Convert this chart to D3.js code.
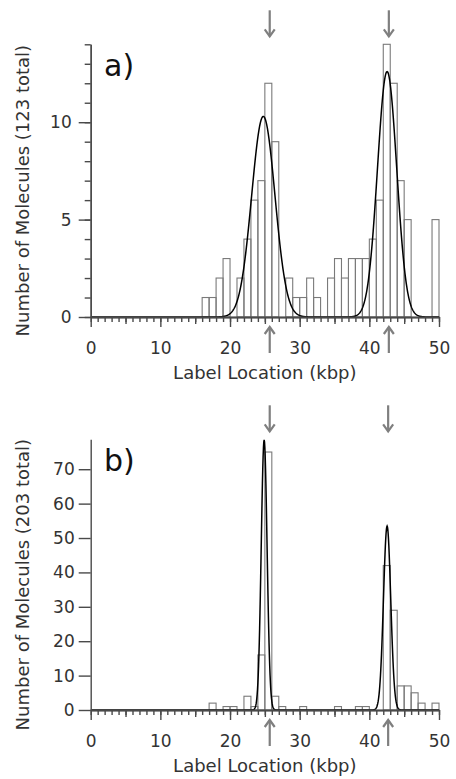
<!DOCTYPE html>
<html>
<head>
<meta charset="utf-8">
<script src="https://cdn.jsdelivr.net/npm/d3@7"></script>
<style>
  body { margin: 0; background: #fff; }
  svg { display: block; }
  text { font-family: "DejaVu Sans", Verdana, sans-serif; fill: #333; }
</style>
</head>
<body>
<svg id="chart" width="456" height="779"></svg>
<script>
// histogram counts, one entry per 1 kbp bin (bin k covers k..k+1 kbp)
const countsA = [0, 0, 0, 0, 0, 0, 0, 0, 0, 0,  0, 0, 0, 0, 0, 0, 1, 1, 2, 3,
                 0, 2, 4, 6, 7, 12, 9, 0, 2, 1,  1, 2, 1, 0, 2, 3, 2, 3, 3, 3,
                 4, 6, 14, 12, 7, 5, 0, 0, 0, 5];
const countsB = [0, 0, 0, 0, 0, 0, 0, 0, 0, 0,  0, 0, 0, 0, 0, 0, 0, 2, 0, 1,
                 1, 0, 4, 1, 16, 75, 4, 1, 0, 0,  1, 0, 0, 0, 0, 1, 0, 0, 1, 1,
                 0, 0, 42, 29, 7, 7, 5, 2, 0, 2];

// gaussian fits (center kbp, sigma kbp, peak height)
const fitsA = [{center: 24.78, sigma: 1.67, peak: 10.3}, {center: 42.55, sigma: 1.38, peak: 12.6}];
const fitsB = [{center: 24.9, sigma: 0.42, peak: 78.5}, {center: 42.55, sigma: 0.52, peak: 53.5}];

// expected label positions marked by the arrows
const arrowsA = [25.7, 42.8];
const arrowsB = [25.7, 42.7];

const xTickLabels = [0, 10, 20, 30, 40, 50];
const xMinorTicks = d3.range(0, 51, 1);
const xMidTicks = [5, 15, 25, 35, 45];
const yTicksA = [0, 5, 10];
const yMinorA = d3.range(0, 15, 1);
const yTicksB = [0, 10, 20, 30, 40, 50, 60, 70];

const panels = [
  {label: 'a)', title: 'Number of Molecules (123 total)', counts: countsA, fits: fitsA, arrows: arrowsA,
   yMax: 14, yTicks: yTicksA, yMinor: yMinorA, top: 44.3, bottom: 317, yPad: 7},
  {label: 'b)', title: 'Number of Molecules (203 total)', counts: countsB, fits: fitsB, arrows: arrowsB,
   yMax: 78.7, yTicks: yTicksB, yMinor: [], top: 439.3, bottom: 710, yPad: 4}
];

const left = 90.7, right = 439;
const svg = d3.select('#chart');
const sx = d3.scaleLinear().domain([0, 50]).range([left, right]);

panels.forEach(function(p) {
  const sy = d3.scaleLinear().domain([0, p.yMax]).range([p.bottom, p.top]);
  const g = svg.append('g');

  // bars
  g.append('g').selectAll('rect')
    .data(p.counts.map((c, i) => ({start: i, count: c})).filter(d => d.count > 0))
    .join('rect')
    .attr('x', d => sx(d.start))
    .attr('width', d => sx(d.start + 1) - sx(d.start))
    .attr('y', d => sy(d.count))
    .attr('height', d => sy(0) - sy(d.count))
    .style('fill', 'none')
    .style('stroke', '#7a7a7a')
    .style('stroke-width', 1.1);

  // fit curve
  const xs = d3.range(0, 50.0001, 0.05);
  const fitValue = function(x) {
    return d3.sum(p.fits, f => f.peak * Math.exp(-Math.pow(x - f.center, 2) / (2 * f.sigma * f.sigma)));
  };
  const line = d3.line().x(d => sx(d)).y(d => sy(fitValue(d)));
  g.append('path')
    .datum(xs)
    .attr('d', line)
    .style('fill', 'none')
    .style('stroke', '#000')
    .style('stroke-width', 1.5);

  // x axis: minor, mid and major ticks
  const axisColor = '#4a4a4a';
  const xg = g.append('g').attr('transform', `translate(0, ${p.bottom})`);
  xg.append('g').call(d3.axisBottom(sx).tickValues(xMinorTicks).tickSize(5).tickSizeOuter(0).tickFormat(''));
  xg.append('g').call(d3.axisBottom(sx).tickValues(xMidTicks).tickSize(7).tickSizeOuter(0).tickFormat(''));
  xg.append('g').attr('class', 'x-major')
    .call(d3.axisBottom(sx).tickValues(xTickLabels).tickSize(10).tickSizeOuter(0).tickPadding(15));

  // y axis
  const yg = g.append('g').attr('transform', `translate(${left}, 0)`);
  if (p.yMinor.length) {
    yg.append('g').call(d3.axisLeft(sy).tickValues(p.yMinor).tickSize(6).tickSizeOuter(0).tickFormat(''));
  }
  yg.append('g').attr('class', 'y-major')
    .call(d3.axisLeft(sy).tickValues(p.yTicks).tickSize(12).tickSizeOuter(0).tickPadding(p.yPad));

  g.selectAll('.domain, .tick line')
    .style('stroke', axisColor)
    .style('stroke-width', 1.4);
  g.selectAll('.tick text')
    .style('font-size', '17px')
    .style('font-family', '"DejaVu Sans", Verdana, sans-serif')
    .style('fill', '#333');

  // axis titles
  g.append('text')
    .attr('x', (left + right) / 2)
    .attr('y', p.bottom + 62)
    .attr('text-anchor', 'middle')
    .style('font-size', '18px')
    .text('Label Location (kbp)');
  g.append('text')
    .attr('transform', `translate(29, ${(p.top + p.bottom) / 2 + 10}) rotate(-90)`)
    .attr('text-anchor', 'middle')
    .style('font-size', '18px')
    .text(p.title);

  // panel label
  g.append('text')
    .attr('x', 104)
    .attr('y', p.top + 32)
    .style('font-size', '30px')
    .style('fill', '#111')
    .text(p.label);

  // arrows above and below the plot
  const arrowColor = '#7f7f7f';
  const drawArrow = function(x, yTail, yTip) {
    const dir = yTip > yTail ? 1 : -1;
    g.append('line')
      .attr('x1', x).attr('x2', x)
      .attr('y1', yTail).attr('y2', yTip)
      .style('stroke', arrowColor).style('stroke-width', 2.2);
    g.append('path')
      .attr('d', `M${x - 5},${yTip - dir * 7}L${x},${yTip}L${x + 5},${yTip - dir * 7}`)
      .style('fill', 'none').style('stroke', arrowColor).style('stroke-width', 2.2);
  };
  p.arrows.forEach(function(a) {
    drawArrow(sx(a), p.top - 34, p.top - 8);
    drawArrow(sx(a), p.bottom + 36, p.bottom + 10);
  });
});
</script>
</body>
</html>
